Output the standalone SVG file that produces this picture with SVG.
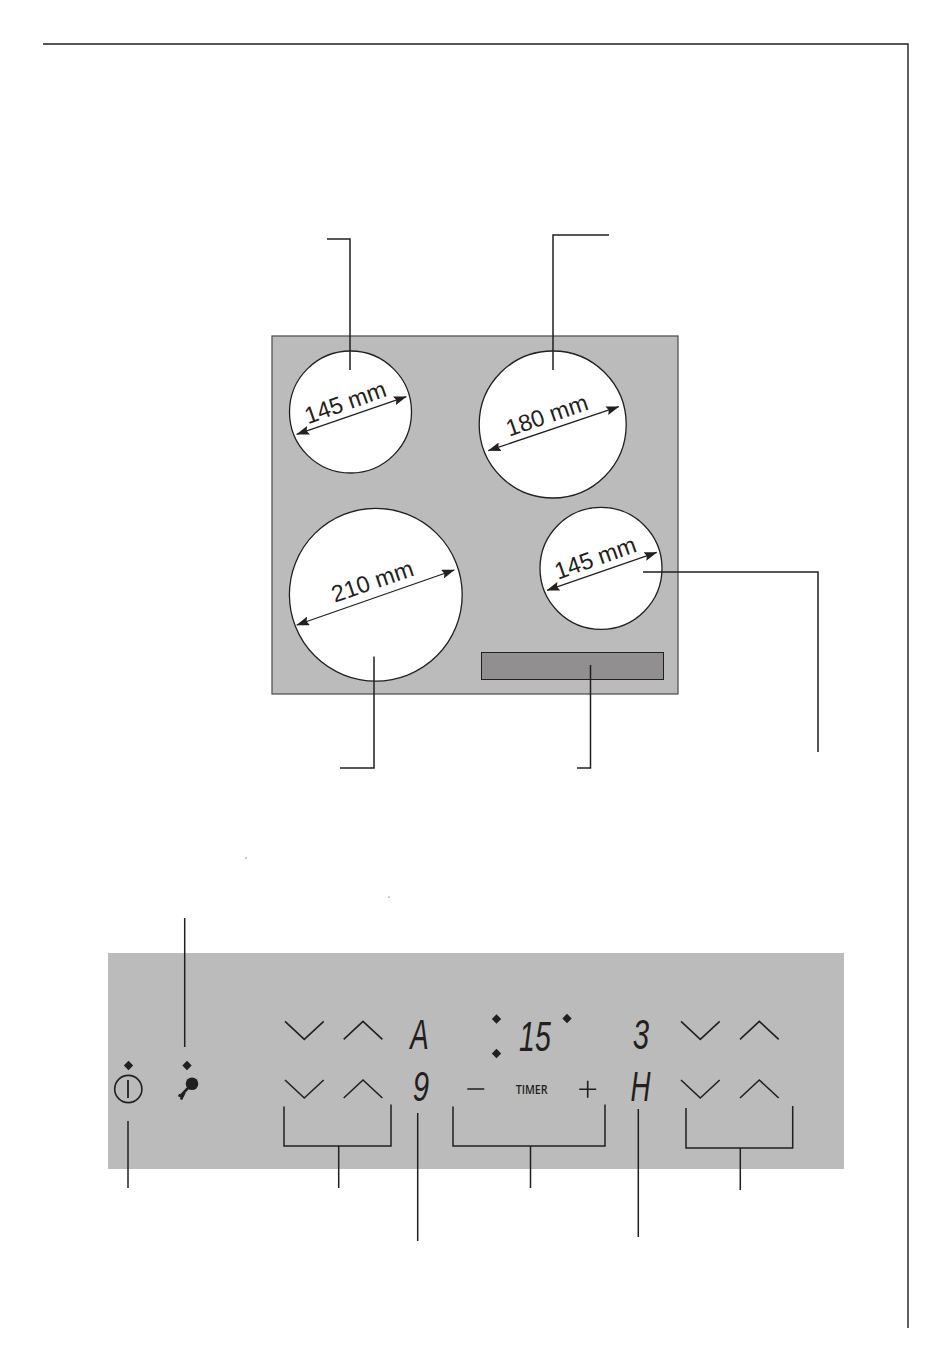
<svg xmlns="http://www.w3.org/2000/svg" width="950" height="1372" viewBox="0 0 950 1372">
<style>
.bg{fill:#fff}
.lead{fill:none;stroke:#231f20;stroke-width:1.5}
.zone{fill:#fff;stroke:#231f20;stroke-width:1.3}
.dim{fill:none;stroke:#231f20;stroke-width:1.3;marker-start:url(#a);marker-end:url(#a)}
.lbl{font-family:"Liberation Sans",Arial,sans-serif;font-size:23.5px;fill:#231f20;text-anchor:middle}
.chev{fill:none;stroke:#231f20;stroke-width:1.6}
.seg{font-family:"Liberation Sans",Arial,sans-serif;font-size:42px;fill:#231f20;text-anchor:middle;font-style:italic}
.dia{fill:#231f20}
</style>
<defs>
<marker id="a" viewBox="0 0 13 9" refX="12.5" refY="4.5" markerWidth="13" markerHeight="9" markerUnits="userSpaceOnUse" orient="auto-start-reverse"><path d="M0 0L13 4.5L0 9L2 4.5Z" fill="#231f20"/></marker>
<path id="d" d="M0-4.7L4.7 0L0 4.7L-4.7 0Z"/>
<path id="v" d="M0 0L19.3 18L38.7 0"/>
<path id="c" d="M0 18L19.3 0L38.7 18"/>
</defs>
<rect class="bg" width="950" height="1372"/>
<g id="frame"><path d="M43 44H908V1328" fill="none" stroke="#231f20" stroke-width="1.4"/></g>
<g id="hob"><rect x="272" y="336" width="406" height="358" fill="#bbb" stroke="#555" stroke-width="1.3"/></g>
<g id="zone-rear-left"><circle class="zone" cx="350.5" cy="412" r="61"/><path class="dim" d="M296.7 434.3L406.3 396.7"/><text class="lbl" transform="translate(347.9 410) rotate(-19.5)">145 mm</text></g>
<g id="zone-rear-right"><circle class="zone" cx="552.7" cy="424.5" r="73.500"/><path class="dim" d="M488.3 450.7L618.7 406.7"/><text class="lbl" transform="translate(549.5 423) rotate(-19)">180 mm</text></g>
<g id="zone-front-left"><circle class="zone" cx="375.8" cy="594.7" r="86.4"/><path class="dim" d="M296.7 625L454.3 570"/><text class="lbl" transform="translate(375 589) rotate(-19)">210 mm</text></g>
<g id="zone-front-right"><circle class="zone" cx="601" cy="568.3" r="61"/><path class="dim" d="M547 590.3L656.7 552.3"/><text class="lbl" transform="translate(598 565.500) rotate(-19.5)">145 mm</text></g>
<g id="display"><rect x="481.5" y="652.5" width="182" height="27" fill="#918f90" stroke="#231f20" stroke-width="1"/></g>
<g id="panel"><rect x="108" y="953" width="736" height="216" fill="#bbb"/></g>
<g id="power"><use href="#d" class="dia" x="128.5" y="1065.5"/><circle cx="128.3" cy="1089" r="13.6" fill="none" stroke="#231f20" stroke-width="1.6"/><path d="M128 1080V1098" stroke="#231f20" stroke-width="1.8"/></g>
<g id="lock"><use href="#d" class="dia" x="187" y="1065.5"/><circle cx="192" cy="1083.7" r="6.300" fill="#231f20"/><path d="M189 1087L180.500 1096L178.500 1095M184.500 1092.500L181 1099.500" fill="none" stroke="#231f20" stroke-width="2.600"/></g>
<g id="controls-left"><use href="#v" class="chev" x="285" y="1021.300"/><use href="#c" class="chev" x="343.700" y="1021.300"/><use href="#v" class="chev" x="285" y="1080"/><use href="#c" class="chev" x="343.700" y="1080"/></g>
<g id="digits-left"><text class="seg" transform="translate(419.500 1049) scale(.66 1)">A</text><text class="seg" transform="translate(421 1101) scale(.7 1)">9</text></g>
<g id="timer"><use href="#d" class="dia" x="496.500" y="1019"/><use href="#d" class="dia" x="496.500" y="1053.500"/><use href="#d" class="dia" x="567" y="1018.500"/>
<text class="seg" transform="translate(535 1051) scale(.68 1)">15</text>
<path d="M467.300 1089H484.300M579.200 1089.300H596.200M587.700 1080.800V1097.800" fill="none" stroke="#231f20" stroke-width="1.600"/>
<text x="531.700" y="1093.500" font-family="'Open Sans','Liberation Sans',sans-serif" font-size="12" font-weight="600" fill="#231f20" text-anchor="middle" textLength="32" lengthAdjust="spacingAndGlyphs">TIMER</text></g>
<g id="digits-right"><text class="seg" transform="translate(641 1049) scale(.7 1)">3</text><text class="seg" transform="translate(640.500 1101) scale(.66 1)">H</text></g>
<g id="controls-right"><use href="#v" class="chev" x="681" y="1021.300"/><use href="#c" class="chev" x="740" y="1021.300"/><use href="#v" class="chev" x="681" y="1080"/><use href="#c" class="chev" x="740" y="1080"/></g>
<g id="connectors">
<path class="lead" d="M327 239H350V370"/>
<path class="lead" d="M609 235H553V370"/>
<path class="lead" d="M374 656.500V768H340"/>
<path class="lead" d="M590.500 665V768H577"/>
<path class="lead" d="M643 572H818V752"/>
<path class="lead" d="M184.700 918V1047"/>
<path class="lead" d="M128 1121V1188"/>
<path class="lead" d="M284 1106.500V1146H391V1104.500M338.700 1146V1188"/>
<path class="lead" d="M417.700 1113V1241"/>
<path class="lead" d="M453 1106.500V1146H605V1104.500M530.500 1146V1188"/>
<path class="lead" d="M638.300 1109V1237"/>
<path class="lead" d="M686 1108V1148H792.700V1106M740.300 1148V1190"/>
</g>
<circle cx="246" cy="858" r=".6" fill="#231f20"/><circle cx="389" cy="897" r=".6" fill="#231f20"/>
</svg>
